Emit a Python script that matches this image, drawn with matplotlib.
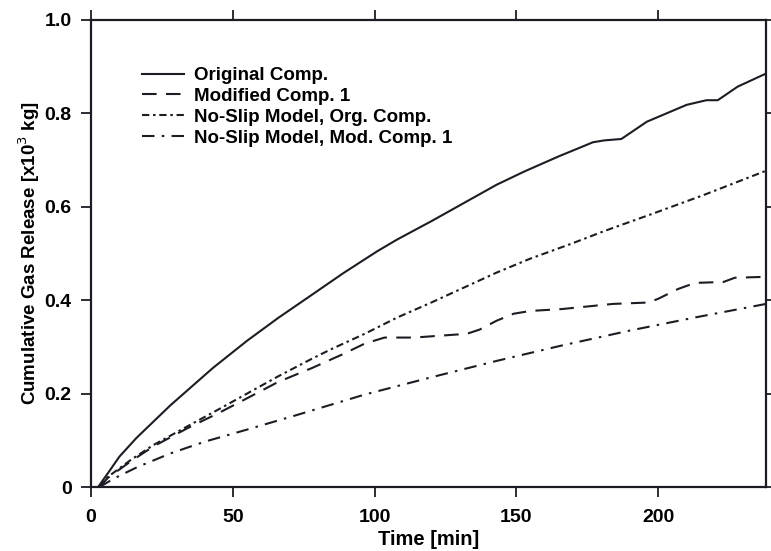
import matplotlib
matplotlib.use("Agg")
import matplotlib.pyplot as plt

plt.rcParams['font.family'] = ['Liberation Sans', 'DejaVu Sans']

# Cumulative gas release (x10^3 kg) versus time (min)
t_orig = [2.5, 6, 10, 16, 22, 28, 34, 43, 55, 66, 78, 89, 101, 108, 120, 143,
          153, 165, 177, 181, 187, 196, 210, 217, 221, 228, 238]
g_orig = [0, 0.03, 0.065, 0.105, 0.14, 0.175, 0.207, 0.255, 0.313, 0.362, 0.412, 0.458,
          0.505, 0.53, 0.569, 0.647, 0.676, 0.708, 0.738, 0.742, 0.745, 0.782, 0.818,
          0.828, 0.828, 0.857, 0.885]

t_mod1 = [3, 6, 14, 22, 34, 45.5, 55, 66, 78, 89, 96.5, 103.5, 114, 123, 132.5, 137,
          143, 149, 155, 166, 184, 196.5, 200, 207, 213, 223, 227, 238]
g_mod1 = [0, 0.02, 0.055, 0.087, 0.126, 0.16, 0.19, 0.225, 0.255, 0.285, 0.307, 0.32,
          0.32, 0.324, 0.328, 0.337, 0.356, 0.371, 0.377, 0.381, 0.392, 0.395, 0.403,
          0.424, 0.437, 0.439, 0.448, 0.45]

t_ns_orig = [3, 6, 14, 22, 34, 45.5, 55, 66, 78, 85, 96.5, 108, 120, 131.5, 143,
             154.5, 169, 181, 198, 216, 238]
g_ns_orig = [0, 0.022, 0.058, 0.09, 0.13, 0.168, 0.2, 0.237, 0.275, 0.296, 0.328,
             0.363, 0.395, 0.427, 0.459, 0.488, 0.52, 0.548, 0.585, 0.625, 0.677]

t_ns_mod1 = [3, 8.3, 16.4, 28, 40, 55, 73, 96.5, 120, 143, 166, 190, 213, 238]
g_ns_mod1 = [0, 0.019, 0.043, 0.072, 0.097, 0.123, 0.155, 0.198, 0.235, 0.27,
             0.303, 0.335, 0.363, 0.392]

labels = ["Original Comp.", "Modified Comp. 1",
          "No-Slip Model, Org. Comp.", "No-Slip Model, Mod. Comp. 1"]

x_ticks = [0, 50, 100, 150, 200]
y_ticks = [0, 0.2, 0.4, 0.6, 0.8, 1.0]
y_ticklabels = ["0", "0.2", "0.4", "0.6", "0.8", "1.0"]

ink = "#1c1c24"

fig = plt.figure(figsize=(7.71, 5.51), dpi=100)
ax = fig.add_axes([0.118, 0.116, 0.8755, 0.848])

lw = 1.5
ax.plot(t_orig, g_orig, color=ink, lw=lw, ls='-', label=labels[0])
ax.plot(t_mod1, g_mod1, color=ink, lw=lw, ls=(0, (7, 4.5)), label=labels[1])
ax.plot(t_ns_orig, g_ns_orig, color=ink, lw=lw, ls=(0, (3.5, 1.8, 1.2, 1.8)), label=labels[2])
ax.plot(t_ns_mod1, g_ns_mod1, color=ink, lw=lw, ls=(0, (6, 3.5, 1.2, 3.5)), label=labels[3])

ax.set_xlim(0, 238)
ax.set_ylim(0, 1.0)
ax.set_xticks(x_ticks)
ax.set_xticklabels([str(v) for v in x_ticks])
ax.set_yticks(y_ticks)
ax.set_yticklabels(y_ticklabels)

ax.tick_params(direction='out', length=7, width=1.3, colors=ink,
               top=True, right=True, labeltop=False, labelright=False,
               labelsize=14)
ax.tick_params(axis='x', pad=9)
ax.tick_params(axis='y', pad=7)
for lab in ax.get_xticklabels() + ax.get_yticklabels():
    lab.set_fontweight('bold')
    lab.set_color('black')
for s in ax.spines.values():
    s.set_linewidth(1.6)
    s.set_color(ink)

ax.set_xlabel("Time [min]", fontsize=14.5, fontweight='bold', labelpad=3)
ax.set_ylabel("Cumulative Gas Release [x10$^3$ kg]", fontsize=13.5,
              fontweight='bold', labelpad=2)

leg = ax.legend(loc='upper left', bbox_to_anchor=(0.065, 0.915), frameon=False,
                prop={'size': 13.5, 'weight': 'bold'}, handlelength=2.2,
                handletextpad=0.55, labelspacing=0.2, borderaxespad=0)
for line in leg.get_lines():
    line.set_linewidth(1.5)

fig.savefig("out.png", dpi=100, facecolor='white')
